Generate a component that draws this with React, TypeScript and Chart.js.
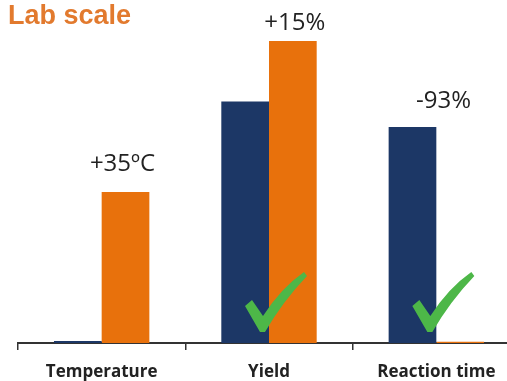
import React, { useEffect, useRef } from "react";
import { Chart, registerables } from "chart.js";

Chart.register(...registerables);

// Process comparison, relative units (yield at lab scale = 100)
const categories = ["Temperature", "Yield", "Reaction time"];
const baselineValues = [0.7, 80, 71.5];
const labScaleValues = [50, 100, 0.4];
const seriesNames = ["Baseline", "Lab scale"];

// Change callouts and the bar each one sits over (0 = baseline, 1 = lab scale)
const callouts = ["+35ºC", "+15%", "-93%"];
const calloutSeries = [1, 1, 0];
const improved = [false, true, true];

const NAVY = "#1C3766";
const ORANGE = "#E8710C";
const GREEN = "#4DB748";
const INK = "#222222";

const titlePlugin = {
  id: "cornerTitle",
  afterDraw(chart: any) {
    const ctx = chart.ctx;
    ctx.save();
    ctx.font = "bold 27px 'Liberation Sans', Arial, sans-serif";
    ctx.fillStyle = "#E27A2E";
    ctx.textAlign = "left";
    ctx.textBaseline = "alphabetic";
    ctx.fillText("Lab scale", 8, 24);
    ctx.restore();
  },
};

// Offsets of each callout from the top centre of its bar
const calloutOffsets = [
  { dx: -3, dy: 21 },
  { dx: 2, dy: 11 },
  { dx: 31, dy: 19 },
];

const calloutPlugin = {
  id: "callouts",
  afterDatasetsDraw(chart: any) {
    const ctx = chart.ctx;
    ctx.save();
    ctx.font = "24px 'Open Sans', sans-serif";
    ctx.fillStyle = INK;
    ctx.textAlign = "center";
    ctx.textBaseline = "alphabetic";
    callouts.forEach((text, i) => {
      const meta = chart.getDatasetMeta(calloutSeries[i]);
      const bar = meta.data[i];
      const off = calloutOffsets[i];
      ctx.fillText(text, bar.x + off.dx, bar.y - off.dy);
    });
    ctx.restore();
  },
};

const checkPlugin = {
  id: "checkMarks",
  afterDatasetsDraw(chart: any) {
    const ctx = chart.ctx;
    const xs = chart.scales.x;
    const base = chart.scales.y.getPixelForValue(0);
    ctx.save();
    ctx.fillStyle = GREEN;
    improved.forEach((ok, i) => {
      if (!ok) return;
      const cx = xs.getPixelForValue(i);
      ctx.beginPath();
      ctx.moveTo(cx - 24, base - 37);
      ctx.lineTo(cx - 17, base - 43);
      ctx.lineTo(cx - 6, base - 27);
      ctx.quadraticCurveTo(cx + 12, base - 55, cx + 35, base - 71);
      ctx.lineTo(cx + 38, base - 67);
      ctx.quadraticCurveTo(cx + 14, base - 42, cx - 4, base - 11);
      ctx.lineTo(cx - 9, base - 11);
      ctx.closePath();
      ctx.fill();
    });
    ctx.restore();
  },
};

export default function App() {
  const canvasRef = useRef<HTMLCanvasElement | null>(null);

  useEffect(() => {
    if (!canvasRef.current) return;
    const chart = new Chart(canvasRef.current, {
      type: "bar",
      data: {
        labels: categories,
        datasets: [
          { label: seriesNames[0], data: baselineValues, backgroundColor: NAVY },
          { label: seriesNames[1], data: labScaleValues, backgroundColor: ORANGE },
        ],
      },
      options: {
        responsive: false,
        animation: false,
        devicePixelRatio: 1,
        layout: { padding: { left: 18, right: 10, top: 41, bottom: 0 } },
        datasets: {
          bar: { categoryPercentage: 0.57, barPercentage: 1 },
        },
        plugins: {
          legend: { display: false },
          tooltip: { enabled: false },
          title: { display: false },
        },
        scales: {
          x: {
            afterFit: (s: any) => {
              s.height = 38;
            },
            grid: {
              display: true,
              drawOnChartArea: false,
              drawTicks: true,
              tickLength: 7,
              color: "#333333",
              lineWidth: 1.5,
              offset: true,
            },
            border: { display: true, color: "#333333", width: 2 },
            ticks: {
              color: INK,
              padding: 12,
              font: { family: "'Open Sans', sans-serif", size: 17, weight: "bold" },
            },
          },
          y: {
            display: false,
            min: 0,
            max: 100,
          },
        },
      },
      plugins: [titlePlugin, calloutPlugin, checkPlugin],
    });
    return () => chart.destroy();
  }, []);

  return (
    <div
      style={{
        position: "absolute",
        left: 0,
        top: 0,
        width: 507,
        height: 381,
        overflow: "hidden",
        background: "#ffffff",
      }}
    >
      <canvas ref={canvasRef} width={530} height={381} />
    </div>
  );
}
